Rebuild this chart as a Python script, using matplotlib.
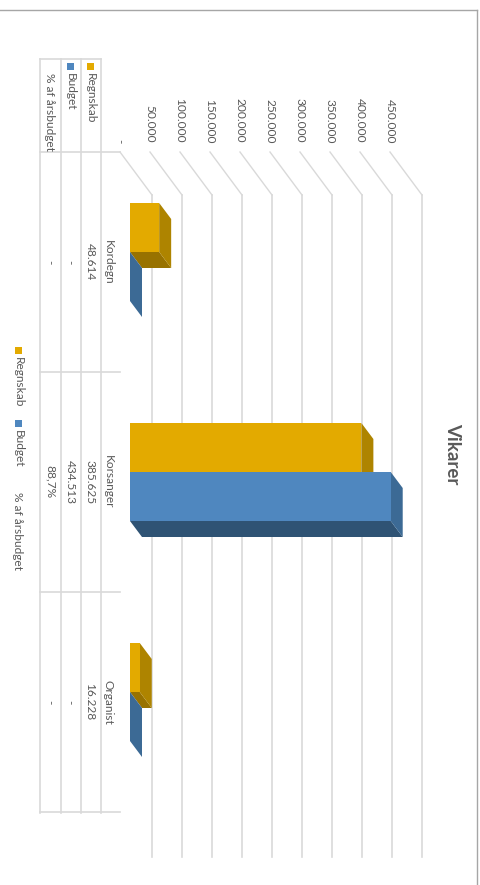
import matplotlib.pyplot as plt
from matplotlib.patches import Rectangle, Polygon

# data
categories = ['Kordegn', 'Korsanger', 'Organist']
regnskab = [48614, 385625, 16228]
budget = [0, 434513, 0]
regnskab_txt = ['48.614', '385.625', '16.228']
budget_txt = ['-', '434.513', '-']
pct_txt = ['-', '88,7%', '-']
ticks = [0, 50000, 100000, 150000, 200000, 250000, 300000, 350000, 400000, 450000]
tick_labels = ['-', '50.000', '100.000', '150.000', '200.000', '250.000',
               '300.000', '350.000', '400.000', '450.000']
series_names = ['Regnskab', 'Budget', '% af årsbudget']
title = 'Vikarer'

gold = '#E3AA00'
gold_top = '#AE8400'
gold_side = '#987200'
blue = '#4F87BF'
blue_top = '#3C6A95'
blue_side = '#2F5374'
grid = '#D9D9D9'
txt = '#595959'

plt.rcParams['font.family'] = ['Lato', 'DejaVu Sans']

W, H = 481, 885
PX = 50000 / 30.0  # value units per pixel


def vx(px):
    return (px - 130) * PX


def cy(py):
    return (py - 262) / 220.0


fig = plt.figure(figsize=(W / 100, H / 100), dpi=100)
ax = fig.add_axes([0, 0, 1, 1])
ax.set_xlim(vx(0), vx(W))
ax.set_ylim(cy(H), cy(0))
ax.axis('off')

dx = 12 * PX
dy = 16 / 220.0
bw = 49 / 220.0
off_r = cy(203)
off_b = cy(252)

# walls / gridlines
for v, lab in zip(ticks, tick_labels):
    ax.plot([v - 10 * PX, v + 22 * PX], [cy(152), cy(195)], color=grid, lw=1, zorder=1)
    ax.plot([v + 22 * PX, v + 22 * PX], [cy(195), cy(857)], color=grid, lw=1.2, zorder=1)
    ax.text(v - 10 * PX, cy(143), lab, rotation=-90, ha='center', va='bottom',
            color=txt, fontsize=8.6)


def bar3d(i, val, off, cf, ct, cs):
    y0 = i + off
    y1 = y0 + bw
    # side face (bottom in this view)
    ax.add_patch(Polygon([(0, y1), (val, y1), (val + dx, y1 + dy), (dx, y1 + dy)],
                         closed=True, fc=cs, ec='none', zorder=3))
    # end face
    ax.add_patch(Polygon([(val, y0), (val, y1), (val + dx, y1 + dy), (val + dx, y0 + dy)],
                         closed=True, fc=ct, ec='none', zorder=3))
    if val > 0:
        ax.add_patch(Rectangle((0, y0), val, bw, fc=cf, ec='none', zorder=4))


for i in range(len(categories)):
    bar3d(i, regnskab[i], off_r, gold, gold_top, gold_side)
    bar3d(i, budget[i], off_b, blue, blue_top, blue_side)

# data table
tx = [vx(40), vx(61), vx(81), vx(101)]
for x in tx:
    ax.plot([x, x], [cy(59), cy(813)], color=grid, lw=1.2, zorder=1)
ax.plot([vx(40), vx(101)], [cy(59), cy(59)], color=grid, lw=1.2, zorder=1)
for k in range(len(categories) + 1):
    ax.plot([vx(40), vx(120)], [k - 0.5, k - 0.5], color=grid, lw=1.2, zorder=1)

for i, c in enumerate(categories):
    ax.text(vx(108), i, c, rotation=-90, ha='center', va='center', color=txt, fontsize=8.6)
    ax.text(vx(90), i, regnskab_txt[i], rotation=-90, ha='center', va='center', color=txt, fontsize=8.6)
    ax.text(vx(70), i, budget_txt[i], rotation=-90, ha='center', va='center', color=txt, fontsize=8.6)
    ax.text(vx(50), i, pct_txt[i], rotation=-90, ha='center', va='center', color=txt, fontsize=8.6)

# row headers
sq = 7
for name, xc, col in zip(series_names, [90, 70, 50], [gold, blue, None]):
    ax.text(vx(xc), cy(73), name, rotation=-90, ha='center', va='top', color=txt, fontsize=8.6)
    if col:
        ax.add_patch(Rectangle((vx(xc - 3), cy(63)), sq * PX, sq / 220.0, fc=col, ec='none'))

# legend
ax.add_patch(Rectangle((vx(15), cy(347)), sq * PX, sq / 220.0, fc=gold, ec='none'))
ax.text(vx(18), cy(357), series_names[0], rotation=-90, ha='center', va='top', color=txt, fontsize=8.6)
ax.add_patch(Rectangle((vx(15), cy(420)), sq * PX, sq / 220.0, fc=blue, ec='none'))
ax.text(vx(18), cy(430), series_names[1], rotation=-90, ha='center', va='top', color=txt, fontsize=8.6)
ax.text(vx(18), cy(492), series_names[2], rotation=-90, ha='center', va='top', color=txt, fontsize=8.6)

# title
ax.text(vx(453), cy(454), title, rotation=-90, ha='center', va='center', color=txt,
        fontsize=13.5, fontweight='bold')

# chart border
ax.plot([vx(0), vx(477)], [cy(10), cy(10)], color='#A6A6A6', lw=1)
ax.plot([vx(477), vx(477)], [cy(10), cy(H)], color='#A6A6A6', lw=1)

fig.savefig('out.png', dpi=100)
